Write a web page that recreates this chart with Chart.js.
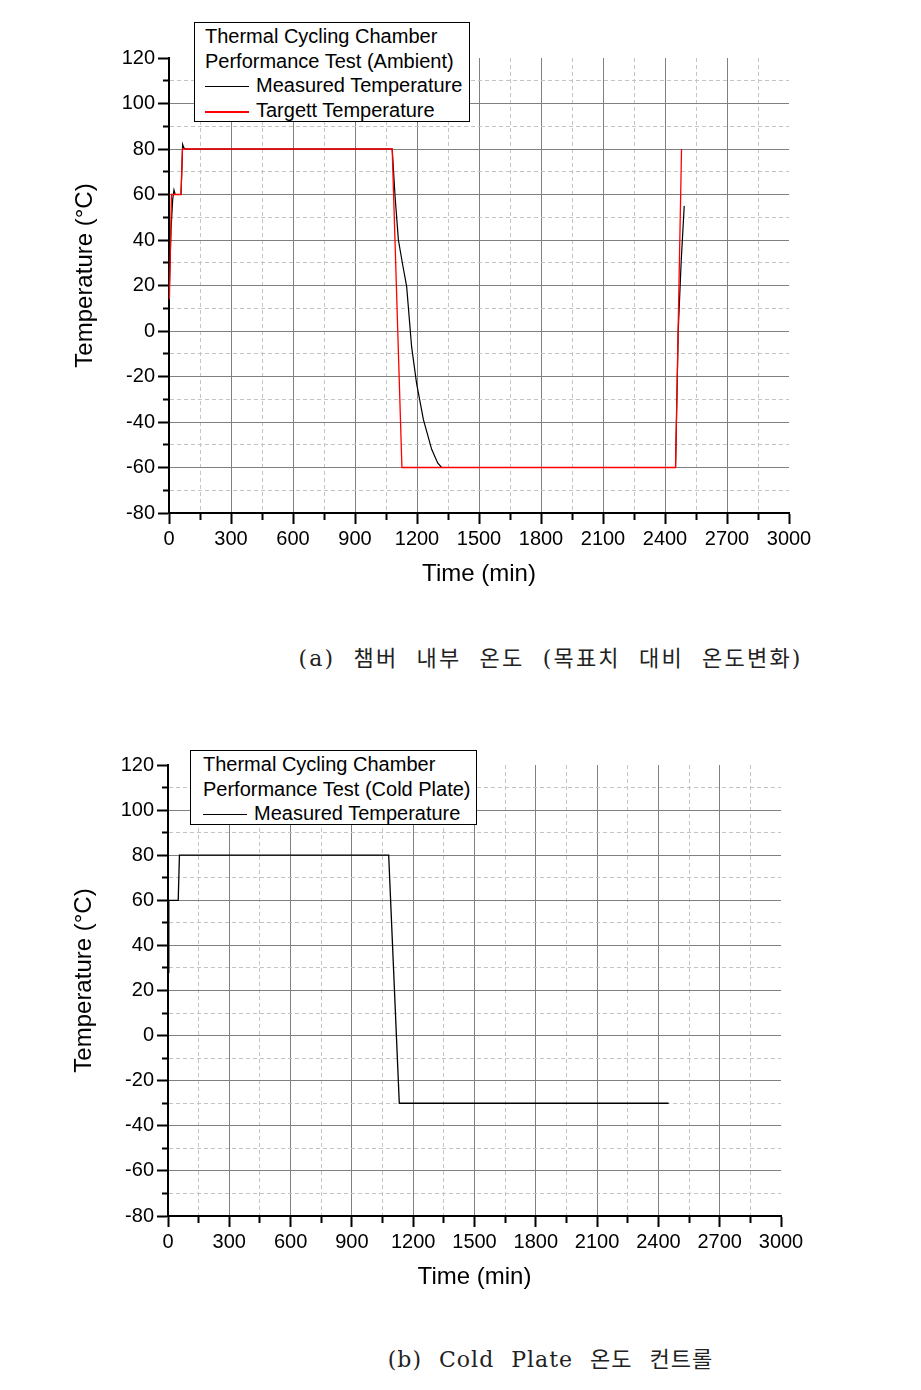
<!DOCTYPE html>
<html>
<head>
<meta charset="utf-8">
<script src="https://cdn.jsdelivr.net/npm/chart.js@4"></script>
<style>
  body { margin: 0; background: #fff; width: 921px; height: 1390px; position: relative; overflow: hidden; }
  .wrap { position: absolute; left: 0; width: 921px; height: 620px; }
  .legend {
    position: absolute; background: #fff; border: 1px solid #000;
    font-family: "Liberation Sans", Arial, sans-serif; font-size: 20px; line-height: 24.6px;
    color: #000; box-sizing: border-box; white-space: nowrap;
  }
  .sample { display: inline-block; width: 44px; height: 1px; vertical-align: middle; margin-right: 7px; }
  .caption {
    position: absolute; left: 90px; width: 921px; text-align: center;
    font-family: "DejaVu Serif", "Noto Sans CJK KR", serif; font-size: 22px; color: #222;
    letter-spacing: 2.2px; word-spacing: 9px;
  }
</style>
</head>
<body>
<div class="wrap" style="top:0"><canvas id="ambient" width="921" height="620"></canvas></div>
<div class="legend" style="left:194px;top:22px;width:276px;height:100px;padding:1px 0 0 10px;">
  Thermal Cycling Chamber<br>
  Performance Test (Ambient)<br>
  <span class="sample" style="background-color:rgb(0,0,0)"></span>Measured Temperature<br>
  <span class="sample" style="background-color:rgb(255,0,0);height:2px"></span>Targett Temperature
</div>
<div class="caption" style="top:640px">(a) 챔버 내부 온도 (목표치 대비 온도변화)</div>

<div class="wrap" style="top:700px"><canvas id="plate" width="921" height="620"></canvas></div>
<div class="legend" style="left:190px;top:750px;width:287px;height:75px;padding:1px 0 0 12px;">
  Thermal Cycling Chamber<br>
  Performance Test (Cold Plate)<br>
  <span class="sample" style="background-color:rgb(0,0,0)"></span>Measured Temperature
</div>
<div class="caption" style="top:1341px;letter-spacing:1px">(b) Cold Plate 온도 컨트롤</div>

<script>
// (a) ambient: target profile
const ambTargetTime = [2, 12, 58, 65, 1080, 1127, 2451, 2480];
const ambTargetTemp = [14, 60, 60, 80, 80, -60, -60, 80];

// (a) ambient: measured
const ambMeasTime = [0, 10, 18, 24, 30, 58, 62, 66, 72, 80, 1080, 1094, 1110, 1129, 1150, 1174, 1198, 1231, 1271, 1300, 1319, 2451, 2464, 2478, 2493];
const ambMeasTemp = [14, 45, 58, 62, 60, 60, 70, 82, 80.5, 80, 80, 59, 40, 30, 19.5, -7, -23, -39, -52, -58, -60, -60, 0, 30, 55];

// (b) cold plate: measured
const plateTime = [0, 4, 50, 56, 1080, 1132, 2450];
const plateTemp = [28, 60, 60, 80, 80, -30, -30];

const xMin = 0, xMax = 3000, xStep = 150, xLabelEvery = 300;
const yMin = -80, yMax = 120, yStep = 10, yLabelEvery = 20;

const FONT = 'Liberation Sans, Arial, sans-serif';
const NB = '\u00A0';

function pts(xs, ys) {
  return xs.map((x, i) => ({ x: x, y: ys[i] }));
}

function axis(min, max, step, every, title, isX) {
  return {
    type: 'linear',
    min: min,
    max: max,
    afterFit: (s) => { if (isX) s.height = 78; else s.width = 100; },
    border: {
      color: '#000',
      width: 2,
      dash: (c) => (c.tick && c.tick.value % every !== 0) ? [4, 3] : [],
    },
    grid: {
      color: (c) => {
        if (!c.tick) return '#808080';
        if (c.tick.value === max) return 'rgba(0,0,0,0)';
        return c.tick.value % every === 0 ? '#808080' : '#c4c4c4';
      },
      lineWidth: 1,
      tickLength: 11,
      tickWidth: 2,
      tickColor: '#000',
      tickBorderDash: (c) => (c.tick && c.tick.value % every !== 0) ? (isX ? [6, 40] : [6, 5]) : [],
      tickBorderDashOffset: (c) => (!isX && c.tick && c.tick.value % every !== 0) ? 6 : 0,
    },
    ticks: {
      stepSize: step,
      autoSkip: false,
      maxRotation: 0,
      color: '#000',
      padding: 3,
      font: { family: FONT, size: 20 },
      callback: (v) => (v % every === 0 ? String(v) : ''),
    },
    title: {
      display: true,
      text: title,
      color: '#000',
      font: { family: FONT, size: 24 },
      padding: 2,
    },
  };
}

function createChart(id, datasets, pad) {
  return new Chart(document.getElementById(id), {
    type: 'line',
    data: { datasets: datasets },
    options: {
      responsive: false,
      devicePixelRatio: 1,
      animation: false,
      layout: { padding: pad },
      plugins: { legend: { display: false }, tooltip: { enabled: false } },
      elements: { point: { radius: 0 }, line: { tension: 0 } },
      scales: {
        x: axis(xMin, xMax, xStep, xLabelEvery, 'Time (min)', true),
        y: axis(yMin, yMax, yStep, yLabelEvery, NB + NB + NB + 'Temperature (\u00B0C)', false),
      },
    },
  });
}

createChart('ambient', [
  {
    label: 'Targett Temperature',
    data: pts(ambTargetTime, ambTargetTemp),
    borderColor: '#ff0000',
    borderWidth: 1.3,
    fill: false,
  },
  {
    label: 'Measured Temperature',
    data: pts(ambMeasTime, ambMeasTemp),
    borderColor: '#000',
    borderWidth: 1.2,
    fill: false,
  },
], { left: 69, top: 58, right: 132, bottom: 29 });

createChart('plate', [
  {
    label: 'Measured Temperature',
    data: pts(plateTime, plateTemp),
    borderColor: '#000',
    borderWidth: 1.3,
    fill: false,
  },
], { left: 68, top: 65, right: 140, bottom: 26 });
</script>
</body>
</html>
